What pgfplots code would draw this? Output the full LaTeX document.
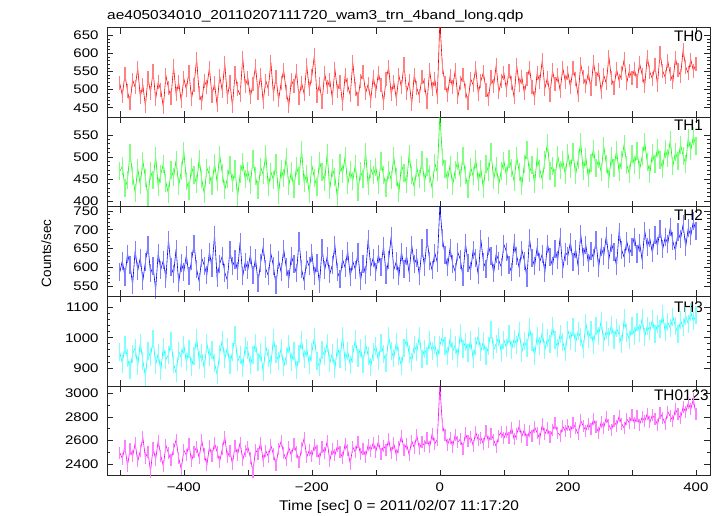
\documentclass[border=0pt]{standalone}
\usepackage{fontspec}
\setmainfont{Liberation Sans}
\newfontfamily\tickfont{Liberation Sans}[FakeStretch=1.2]
\newfontfamily\titlefont{Liberation Sans}[FakeStretch=1.19]
\newfontfamily\xlabfont{Liberation Sans}[FakeStretch=1.1]
\usepackage{pgfplots}
\usepackage{pgfplotstable}
\pgfplotsset{compat=1.18}

\definecolor{qred}{RGB}{255,0,0}
\definecolor{qgreen}{RGB}{0,255,0}
\definecolor{qblue}{RGB}{0,0,255}
\definecolor{qcyan}{RGB}{0,255,255}
\definecolor{qmagenta}{RGB}{255,0,255}

% light curve, 4 s bins: time, TH0, TH1, TH2, TH3, TH0123
\pgfplotstableread{
t a b c d e
-500 517 467 587 952 2495
-496 483 479 618 914 2446
-492 543 430 575 976 2551
-488 496 447 636 932 2383
-484 462 510 607 893 2526
-480 527 457 554 946 2464
-476 507 419 645 967 2577
-472 559 474 591 906 2421
-468 480 437 626 984 2512
-464 513 491 565 924 2625
-460 455 453 614 871 2454
-456 532 407 660 957 2503
-452 492 468 584 936 2334
-448 552 447 603 995 2538
-444 473 502 540 910 2436
-440 521 432 639 948 2598
-436 499 461 594 890 2471
-432 452 484 619 970 2381
-428 539 442 570 927 2559
-424 504 416 674 943 2491
-420 478 471 600 988 2430
-416 564 454 583 914 2526
-412 487 493 649 883 2607
-408 520 435 558 955 2450
-404 468 467 612 934 2356
-400 531 513 589 977 2516
-396 500 446 633 918 2475
-392 549 423 577 964 2568
-388 475 478 617 903 2422
-384 513 458 663 941 2505
-380 585 439 596 999 2541
-376 490 496 562 925 2451
-372 464 450 625 950 2601
-368 525 415 605 896 2484
-364 508 475 580 981 2387
-360 560 460 642 935 2549
-356 483 435 598 960 2467
-352 517 486 687 915 2576
-348 458 443 572 878 2502
-344 538 505 610 946 2419
-340 497 464 629 991 2524
-336 573 426 586 928 2631
-332 479 451 566 969 2456
-328 521 481 646 908 2514
-324 454 440 603 953 2398
-320 545 472 621 1008 2555
-316 501 409 591 920 2479
-312 485 461 668 942 2582
-308 588 488 576 901 2435
-304 511 449 615 973 2506
-300 532 469 594 958 2545
-296 480 437 634 909 2454
-292 515 495 581 942 2332
-288 565 456 624 983 2519
-284 491 424 559 921 2487
-280 541 477 612 953 2582
-276 467 460 655 886 2422
-272 525 507 596 972 2513
-268 502 431 578 934 2463
-264 576 466 637 910 2557
-260 487 448 603 998 2481
-256 536 486 552 946 2390
-252 471 414 619 923 2524
-248 518 473 588 966 2592
-244 554 452 648 903 2489
-240 494 500 601 939 2436
-236 455 435 568 979 2540
-232 527 467 630 918 2471
-228 509 427 608 955 2566
-224 550 479 584 892 2501
-220 478 456 671 945 2414
-216 519 516 595 991 2533
-212 488 441 563 928 2618
-208 567 462 620 965 2457
-204 501 417 603 911 2516
-200 537 481 638 952 2467
-196 595 452 577 1002 2559
-192 483 432 613 924 2506
-188 516 491 556 902 2443
-184 466 465 651 959 2543
-180 546 444 592 939 2489
-176 506 508 629 983 2594
-172 527 425 582 916 2428
-168 476 474 606 948 2523
-164 557 455 659 896 2474
-160 497 406 588 970 2554
-156 522 486 570 931 2505
-152 460 462 622 1005 2450
-148 539 501 599 921 2571
-144 512 437 644 956 2522
-140 485 470 575 909 2401
-136 575 446 616 946 2545
-132 502 483 594 995 2498
-128 473 421 640 934 2589
-124 525 467 563 966 2481
-120 548 451 610 914 2530
-116 490 512 581 979 2463
-112 515 434 675 941 2562
-108 470 473 601 903 2513
-104 536 458 626 953 2580
-100 495 477 589 971 2505
-96 546 437 635 923 2593
-92 513 490 602 981 2484
-88 464 459 656 947 2555
-84 529 430 581 916 2517
-80 561 470 620 1005 2608
-76 487 447 683 956 2492
-72 522 501 593 932 2575
-68 474 455 616 986 2473
-64 539 419 576 940 2545
-60 506 482 642 905 2638
-56 572 463 597 965 2522
-52 491 438 631 998 2569
-48 523 507 585 946 2478
-44 459 458 660 921 2596
-40 541 431 609 975 2538
-36 504 475 625 953 2643
-32 483 451 578 1007 2529
-28 534 494 651 929 2585
-24 513 442 602 963 2555
-20 467 477 677 939 2618
-16 554 461 618 992 2540
-12 501 428 592 956 2657
-8 530 486 639 977 2571
-4 480 465 613 933 2606
0 690 595 765 975 3065
4 563 500 677 1003 2730
8 518 473 633 973 2643
12 486 447 600 940 2563
16 537 482 652 999 2621
20 506 435 608 955 2547
24 553 470 589 976 2650
28 479 490 640 933 2586
32 517 452 621 1015 2610
36 541 503 575 964 2531
40 497 459 664 985 2659
44 464 427 611 948 2593
48 530 477 591 994 2633
52 513 456 646 930 2556
56 560 496 626 973 2670
60 489 444 580 1007 2601
64 523 473 675 954 2624
68 548 428 615 989 2568
72 500 484 596 941 2677
76 474 465 656 971 2589
80 535 511 631 1025 2654
84 511 448 584 959 2605
88 567 480 636 980 2547
92 493 437 618 1003 2639
96 525 469 601 950 2671
100 546 491 661 993 2618
104 500 457 642 967 2674
108 552 496 607 1012 2622
112 519 475 587 960 2709
116 479 444 666 997 2609
120 567 501 631 977 2655
124 512 466 598 1023 2721
128 536 434 647 951 2632
132 490 485 618 990 2692
136 528 515 572 966 2601
140 559 464 678 1035 2681
144 508 482 625 986 2640
148 477 438 603 939 2714
152 546 500 654 1007 2664
156 521 473 615 974 2613
160 582 448 636 1019 2735
164 503 492 586 959 2653
168 533 531 663 998 2703
172 486 468 628 980 2626
176 553 479 604 1039 2685
180 515 452 649 991 2745
184 539 504 619 965 2665
188 496 471 681 1014 2641
192 560 493 596 987 2718
196 522 459 640 953 2678
200 547 508 631 1025 2728
204 507 472 668 990 2673
208 559 511 614 1034 2748
212 529 459 649 982 2703
216 484 493 603 1021 2655
220 570 533 689 1001 2769
224 536 467 628 961 2722
228 511 500 660 1050 2683
232 547 452 611 997 2743
236 501 487 643 1027 2693
240 577 518 624 976 2780
244 528 474 673 1039 2717
248 553 495 598 1007 2664
252 494 465 653 1057 2755
256 540 525 631 986 2708
260 517 484 684 1024 2795
264 591 449 621 1004 2731
268 532 502 664 1043 2687
272 505 476 640 993 2762
276 557 515 604 1031 2725
280 524 466 695 1011 2805
284 545 493 647 979 2741
288 584 530 626 1064 2703
292 519 481 670 1017 2781
296 552 462 635 994 2749
300 531 507 654 1038 2813
304 556 482 682 1007 2745
308 523 514 635 1052 2806
312 573 470 666 1017 2734
316 541 501 619 1065 2797
320 510 533 698 1002 2764
324 591 489 654 1040 2827
328 548 462 677 1021 2753
332 530 508 638 1061 2815
336 567 484 687 1013 2783
340 514 521 656 1045 2732
344 602 494 703 1028 2836
348 552 473 648 1077 2791
352 534 517 680 1019 2743
356 579 498 663 1051 2844
360 542 538 707 1031 2804
364 521 479 669 1069 2767
368 587 511 644 1038 2867
372 555 491 694 1014 2820
376 538 528 675 1058 2787
380 609 503 714 1034 2883
384 563 484 654 1073 2839
388 545 543 704 1047 2916
392 583 514 684 1084 2865
396 552 547 722 1054 2950
400 570 525 697 1075 2820
}\lc

\pgfplotsset{
  panel/.style={
    scale only axis, width=603pt, height=89.6pt, anchor=south west,
    xmin=-520, xmax=422,
    xtick={-500,-400,-300,-200,-100,0,100,200,300,400},
    xticklabels={},
    tick align=inside,
    major tick length=6pt, minor tick length=3pt,
    axis line style={black!85, line width=0.9pt},
    every tick/.style={black!85, line width=0.6pt},
    scaled ticks=false,
    /pgf/number format/assume math mode=true,
    /pgf/number format/1000 sep={},
    yticklabel style={font=\tickfont\fontsize{12.5}{13}\selectfont, xshift=-5pt},
    xticklabel style={font=\tickfont\fontsize{12.5}{13}\selectfont, yshift=-4pt},
    clip=true,
  },
}

% light vertical error bars (drawn as | marks, half length #3)
% under the binned curve
\newcommand{\lcplot}[3]{%
  \addplot[only marks, mark=|, mark size=#3,
    mark options={draw=#1!50, line width=1.2pt}]
    table[x=t, y=#2]{\lc};
  \addplot[#1, line width=0.6pt, mark=none] table[x=t, y=#2]{\lc};
}

\begin{document}
\begin{tikzpicture}
\useasboundingbox (0,0) rectangle (721pt,516pt);

% TH0
\begin{axis}[panel, at={(107pt,398.8pt)},
  ymin=424, ymax=671, ytick={450,500,...,650}, minor y tick num=4]
  \lcplot{qred}{a}{7pt}
  \node[anchor=north west, inner sep=0pt, font=\fontsize{15.3}{16}\selectfont]
    at (rel axis cs:0.940,1) [yshift=-3pt] {TH0};
\end{axis}

% TH1
\begin{axis}[panel, at={(107pt,309.2pt)},
  ymin=387, ymax=590, ytick={400,450,...,550}, minor y tick num=4]
  \lcplot{qgreen}{b}{9pt}
  \node[anchor=north west, inner sep=0pt, font=\fontsize{15.3}{16}\selectfont]
    at (rel axis cs:0.940,1) [yshift=-3pt] {TH1};
\end{axis}

% TH2
\begin{axis}[panel, at={(107pt,219.6pt)},
  ymin=523, ymax=761, ytick={550,600,...,750}, minor y tick num=4]
  \lcplot{qblue}{c}{9pt}
  \node[anchor=north west, inner sep=0pt, font=\fontsize{15.3}{16}\selectfont]
    at (rel axis cs:0.940,1) [yshift=-3pt] {TH2};
\end{axis}

% TH3
\begin{axis}[panel, at={(107pt,130pt)},
  ymin=840, ymax=1137, ytick={900,1000,1100}, minor y tick num=4]
  \lcplot{qcyan}{d}{9pt}
  \node[anchor=north west, inner sep=0pt, font=\fontsize{15.3}{16}\selectfont]
    at (rel axis cs:0.940,1) [yshift=-5pt] {TH3};
\end{axis}

% TH0123
\begin{axis}[panel, at={(107pt,40.4pt)},
  ymin=2301, ymax=3062, ytick={2400,2600,...,3000}, minor y tick num=1,
  xticklabels={,−400,,−200,,0,,200,,400}]
  \lcplot{qmagenta}{e}{6pt}
  \node[anchor=north west, inner sep=0pt, font=\fontsize{15.3}{16}\selectfont]
    at (rel axis cs:0.907,1) [yshift=-4pt] {TH0123};
\end{axis}

\node[anchor=base west, inner sep=0pt, font=\titlefont\fontsize{13}{14}\selectfont]
  at (107pt,496.7pt) {ae405034010\_20110207111720\_wam3\_trn\_4band\_long.qdp};
\node[anchor=base, inner sep=0pt, font=\xlabfont\fontsize{14}{15}\selectfont]
  at (399pt,5.3pt) {Time [sec] 0 = 2011/02/07 11:17:20};
\node[anchor=base, rotate=90, inner sep=0pt, font=\fontsize{13.5}{14}\selectfont]
  at (51pt,262.7pt) {Counts/sec};
\end{tikzpicture}
\end{document}
